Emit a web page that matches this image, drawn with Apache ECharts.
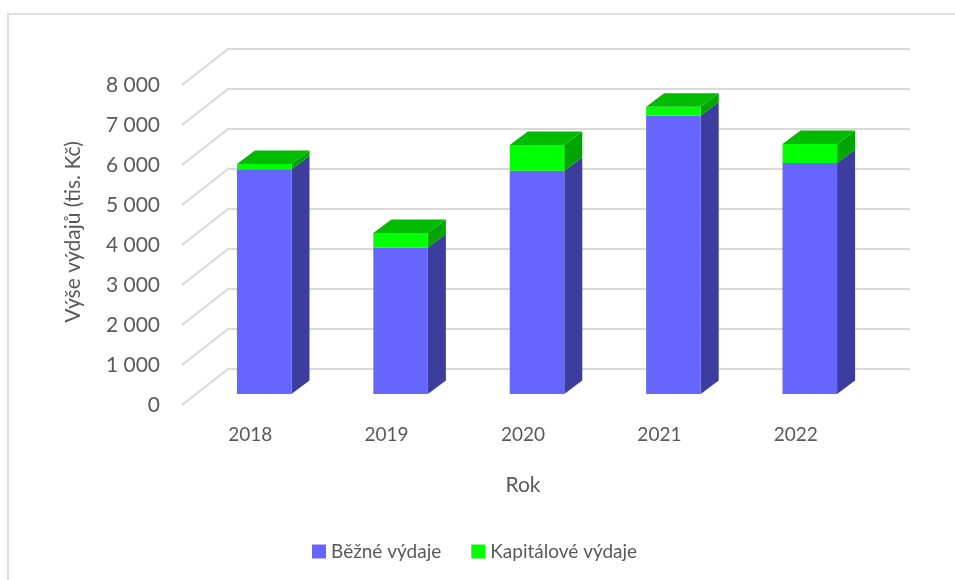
<!DOCTYPE html>
<html>
<head>
<meta charset="utf-8">
<style>
  html, body { margin: 0; padding: 0; background: #fff; }
  #mychart { width: 955px; height: 580px; }
</style>
<script src="https://cdn.jsdelivr.net/npm/echarts@6/dist/echarts.min.js"></script>
</head>
<body>
<div id="mychart"></div>
<script>
let years = ['2018', '2019', '2020', '2021', '2022'];
let bezne = [5620, 3660, 5580, 6960, 5775];
let kapitalove = [130, 365, 645, 220, 475];
let ticks = [0, 1000, 2000, 3000, 4000, 5000, 6000, 7000, 8000];

// floor depth of the fake 3D box and the bar position inside it
let wallDx = 46, wallDy = 36;
let barDx = 14, barDy = 11;
let sideDx = 18, sideDy = 13.5;

function poly(points, fill) {
    return { type: 'polygon', shape: { points: points }, style: { fill: fill } };
}

function renderWall(params, api) {
    let cs = params.coordSys;
    let p = api.coord([0, api.value(0)]);
    let y = p[1];
    return {
        type: 'polyline',
        shape: {
            points: [
                [cs.x, y],
                [cs.x + wallDx, y - wallDy],
                [cs.x + cs.width + wallDx, y - wallDy]
            ]
        },
        style: { fill: null, stroke: '#d9d9d9', lineWidth: 2 },
        silent: true
    };
}

function makeBarRender(front, top, side) {
    return function (params, api) {
        let i = api.value(0);
        let w = api.size([1, 0])[0] * 0.4;
        let a = api.coord([i, api.value(1)]);
        let b = api.coord([i, api.value(2)]);
        let x0 = a[0] - w / 2 + barDx;
        let x1 = x0 + w;
        let y0 = a[1] - barDy;
        let y1 = b[1] - barDy;
        let children = [
            poly([[x1, y0], [x1 + sideDx, y0 - sideDy], [x1 + sideDx, y1 - sideDy], [x1, y1]], side),
            poly([[x0, y0], [x1, y0], [x1, y1], [x0, y1]], front)
        ];
        // only the upper stack shows its lid
        if (api.value(3)) {
            children.push(poly([[x0, y1], [x1, y1], [x1 + sideDx, y1 - sideDy], [x0 + sideDx, y1 - sideDy]], top));
        }
        return { type: 'group', children: children };
    };
}

let bezneData = [];
let kapitalData = [];
for (let i = 0; i < years.length; i++) {
    bezneData.push([i, 0, bezne[i], 0]);
    kapitalData.push([i, bezne[i], bezne[i] + kapitalove[i], 1]);
}

let textColor = '#595959';
let font = 'Lato';

let option = {
    animation: false,
    backgroundColor: '#fff',
    grid: { left: 182, right: 91, top: 85, height: 320 },
    legend: {
        left: 307,
        top: 537,
        itemWidth: 14,
        itemHeight: 14,
        itemGap: 30,
        icon: 'rect',
        selectedMode: false,
        textStyle: { color: textColor, fontSize: 19, fontFamily: font },
        data: ['Běžné výdaje', 'Kapitálové výdaje']
    },
    xAxis: {
        type: 'category',
        data: years,
        name: 'Rok',
        nameLocation: 'middle',
        nameGap: 70,
        nameTextStyle: { color: textColor, fontSize: 21, fontFamily: font },
        axisLine: { show: false },
        axisTick: { show: false },
        axisLabel: { color: textColor, fontSize: 19, fontFamily: font, margin: 20 }
    },
    yAxis: {
        type: 'value',
        min: 0,
        max: 8000,
        interval: 1000,
        name: 'Výše výdajů (tis. Kč)',
        nameLocation: 'middle',
        nameGap: 98,
        nameTextStyle: { color: textColor, fontSize: 21, fontFamily: font, padding: [0, 0, 0, 26] },
        splitLine: { show: false },
        axisLine: { show: false },
        axisTick: { show: false },
        axisLabel: {
            color: textColor,
            fontSize: 21,
            fontFamily: font,
            margin: 22,
            formatter: function (v) {
                return String(v).replace(/\B(?=(\d{3})+$)/g, ' ');
            }
        }
    },
    graphic: [{
        type: 'polyline',
        silent: true,
        shape: { points: [[8, 580], [8, 14], [955, 14]] },
        style: { fill: null, stroke: '#dedede', lineWidth: 2 }
    }],
    series: [
        {
            type: 'custom',
            name: 'wall',
            renderItem: renderWall,
            data: ticks.map(function (t) { return [t]; }),
            encode: { y: 0 },
            silent: true,
            z: 1
        },
        {
            type: 'custom',
            name: 'Běžné výdaje',
            renderItem: makeBarRender('#6666ff', '#4d4dbf', '#3d3d9e'),
            data: bezneData,
            encode: { x: 0, y: [1, 2] },
            itemStyle: { color: '#6666ff' },
            z: 2
        },
        {
            type: 'custom',
            name: 'Kapitálové výdaje',
            renderItem: makeBarRender('#00ff00', '#00bb00', '#00a400'),
            data: kapitalData,
            encode: { x: 0, y: [1, 2] },
            itemStyle: { color: '#00ff00' },
            z: 3
        }
    ]
};

let myChart = echarts.init(document.getElementById('mychart'));
myChart.setOption(option);
</script>
</body>
</html>
